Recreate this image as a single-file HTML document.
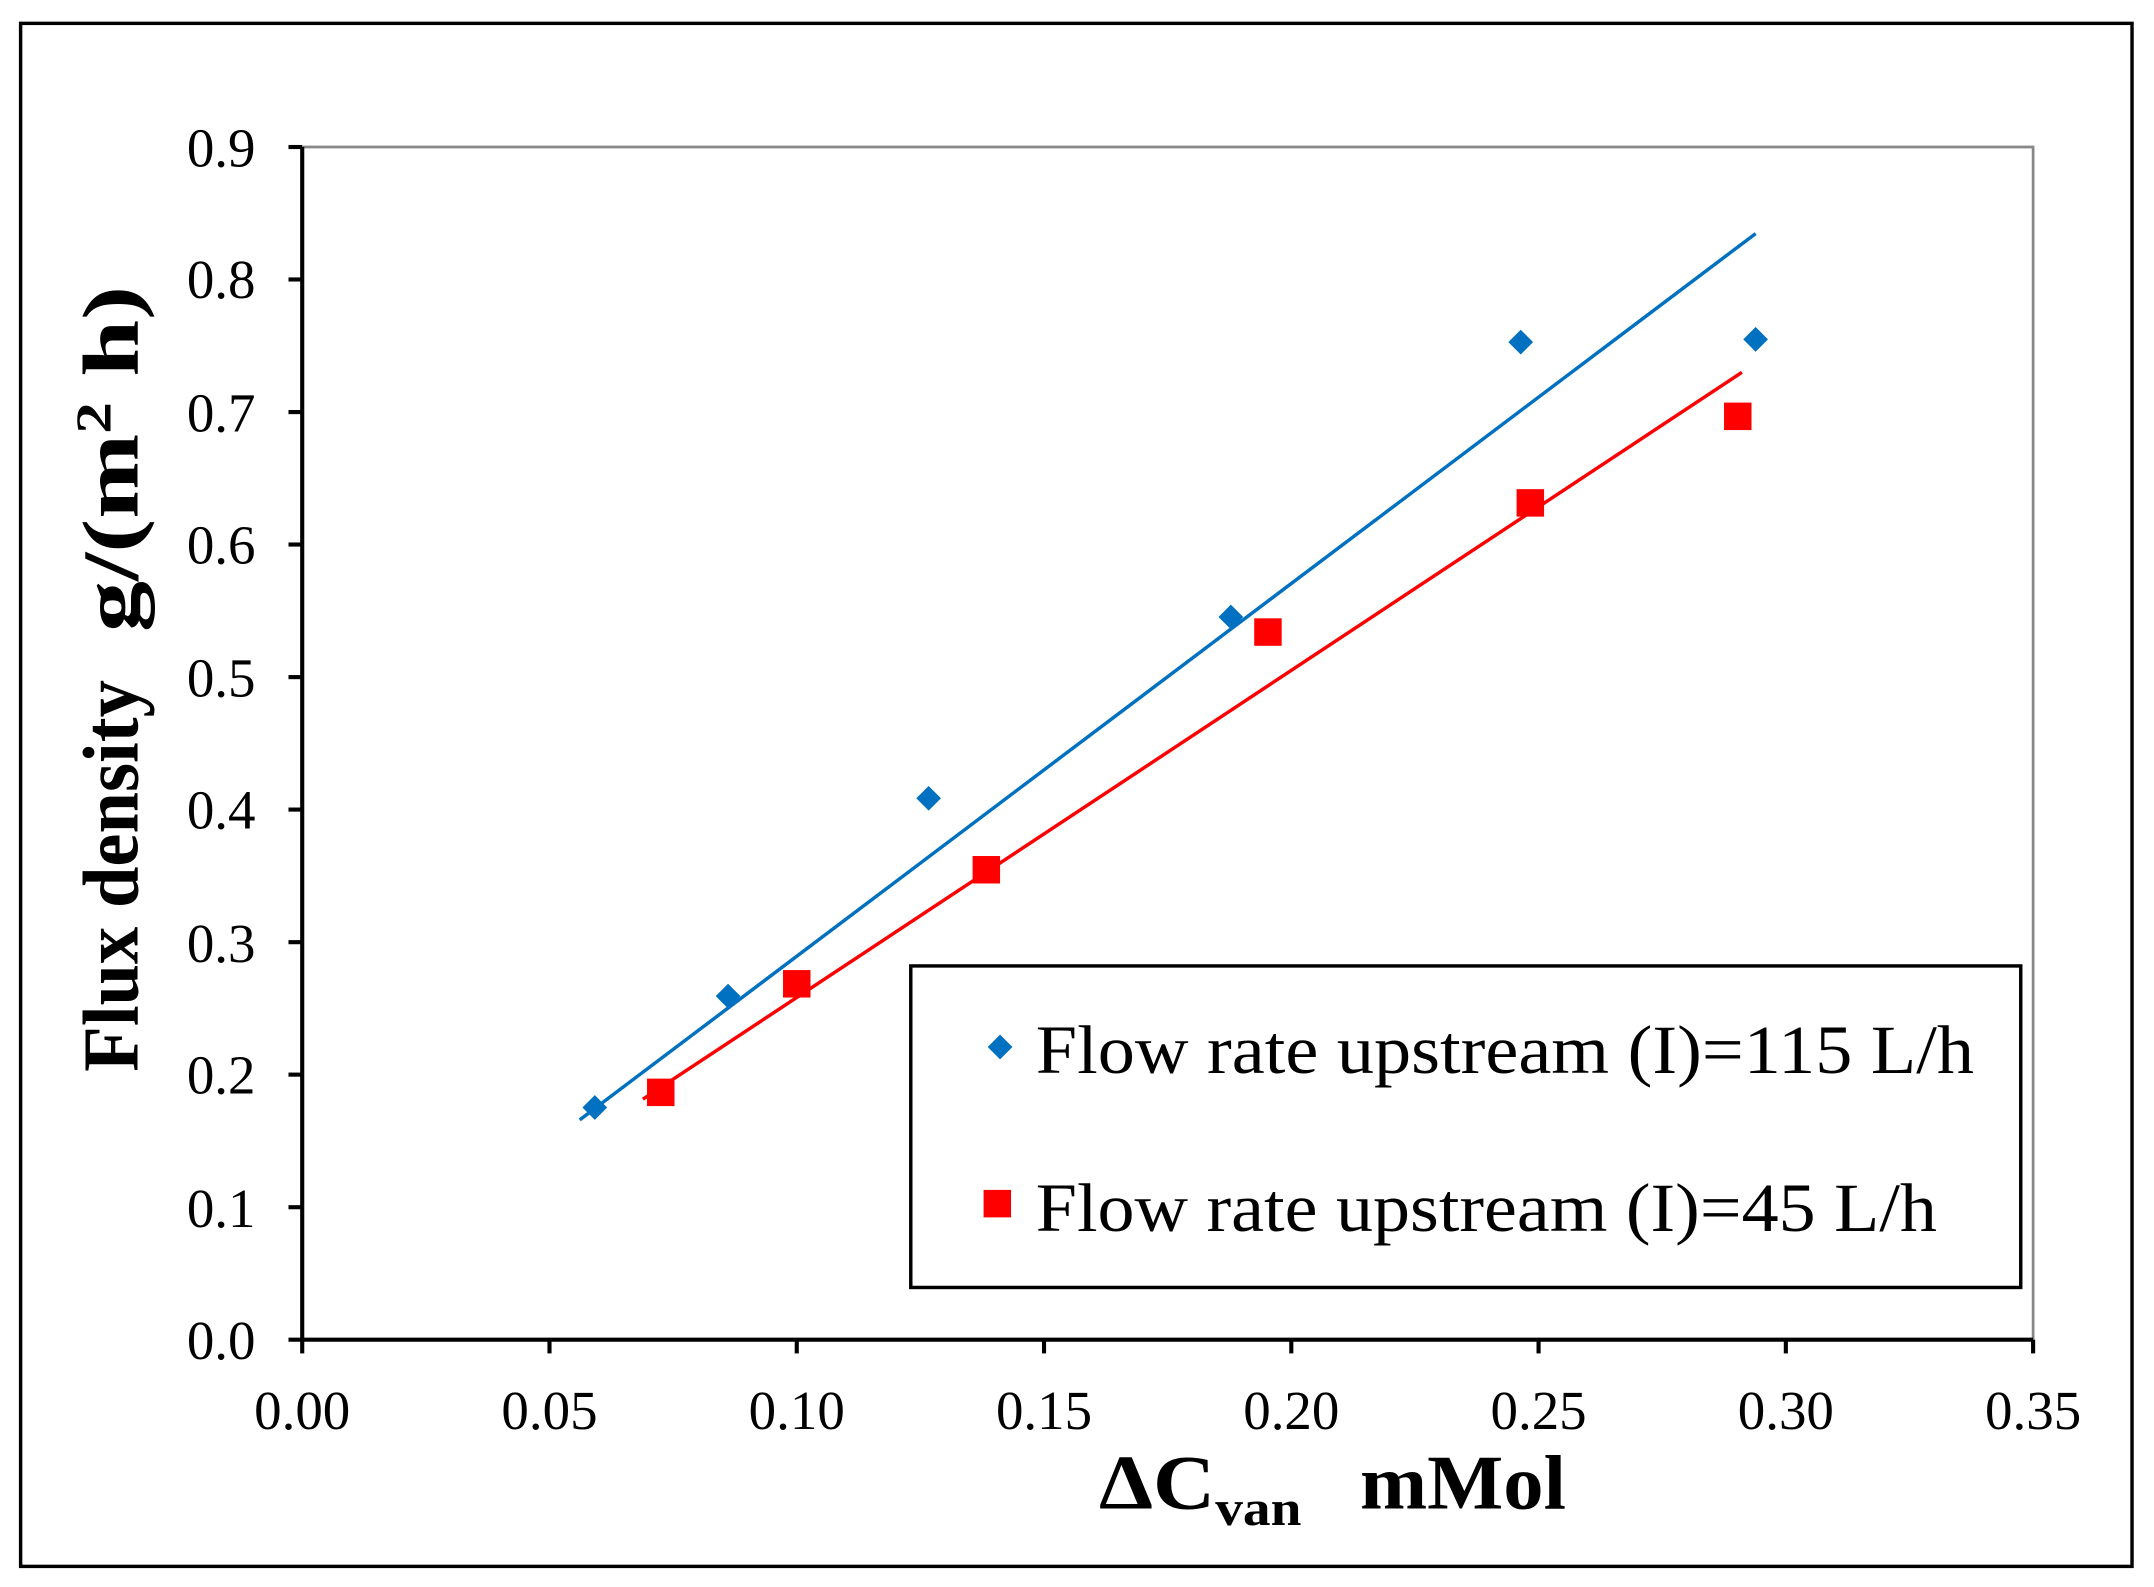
<!DOCTYPE html>
<html><head><meta charset="utf-8"><style>html,body{margin:0;padding:0;background:#fff}svg{display:block}</style></head>
<body>
<svg width="2154" height="1587" viewBox="0 0 1568 1155" preserveAspectRatio="none" xmlns="http://www.w3.org/2000/svg" font-family="'Liberation Serif', serif">
<rect x="0" y="0" width="1568" height="1155" fill="#fff"/>
<rect x="15" y="17" width="1537" height="1123" fill="none" stroke="#000" stroke-width="2.5"/>
<polyline points="220,107 1480,107 1480,975" fill="none" stroke="#888" stroke-width="2"/>
<line x1="220" y1="107" x2="220" y2="975" stroke="#000" stroke-width="3"/>
<line x1="210" y1="975" x2="1480" y2="975" stroke="#000" stroke-width="3"/>
<g stroke="#000" stroke-width="3">
<line x1="210" y1="107" x2="220" y2="107"/><line x1="210" y1="203.4" x2="220" y2="203.4"/><line x1="210" y1="299.9" x2="220" y2="299.9"/><line x1="210" y1="396.3" x2="220" y2="396.3"/><line x1="210" y1="492.8" x2="220" y2="492.8"/><line x1="210" y1="589.2" x2="220" y2="589.2"/><line x1="210" y1="685.7" x2="220" y2="685.7"/><line x1="210" y1="782.1" x2="220" y2="782.1"/><line x1="210" y1="878.6" x2="220" y2="878.6"/>
<line x1="220" y1="975" x2="220" y2="985"/><line x1="400" y1="975" x2="400" y2="985"/><line x1="580" y1="975" x2="580" y2="985"/><line x1="760" y1="975" x2="760" y2="985"/><line x1="940" y1="975" x2="940" y2="985"/><line x1="1120" y1="975" x2="1120" y2="985"/><line x1="1300" y1="975" x2="1300" y2="985"/><line x1="1480" y1="975" x2="1480" y2="985"/>
</g>
<g font-size="40" text-anchor="end">
<text x="186" y="121">0.9</text><text x="186" y="217">0.8</text><text x="186" y="314">0.7</text><text x="186" y="410">0.6</text><text x="186" y="507">0.5</text><text x="186" y="603">0.4</text><text x="186" y="700">0.3</text><text x="186" y="796">0.2</text><text x="186" y="893">0.1</text><text x="186" y="989">0.0</text>
</g>
<g font-size="40" text-anchor="middle">
<text x="220" y="1040">0.00</text><text x="400" y="1040">0.05</text><text x="580" y="1040">0.10</text><text x="760" y="1040">0.15</text><text x="940" y="1040">0.20</text><text x="1120" y="1040">0.25</text><text x="1300" y="1040">0.30</text><text x="1480" y="1040">0.35</text>
</g>
<g transform="translate(100,780) rotate(-90)" font-size="58" font-weight="bold">
<text x="0" y="0" textLength="285" lengthAdjust="spacingAndGlyphs">Flux density</text>
<g transform="translate(320,0) scale(1.28,1)"><text x="0" y="0">g/(m<tspan font-size="36" dy="-20">2</tspan><tspan dy="20"> h)</tspan></text></g>
</g>
<g transform="translate(800,1098) scale(1.12,1)"><text x="0" y="0" font-size="56" font-weight="bold">ΔC<tspan font-size="36" dy="12">van</tspan></text></g>
<text x="990" y="1098" font-size="56" font-weight="bold" textLength="150" lengthAdjust="spacingAndGlyphs">mMol</text>
<line x1="422" y1="815" x2="1278" y2="170" stroke="#0070c0" stroke-width="2.5"/>
<line x1="468" y1="800" x2="1268" y2="271" stroke="#ff0000" stroke-width="2.5"/>
<g fill="#0070c0">
<path d="M433,797 l9,9 l-9,9 l-9,-9z"/><path d="M530,716 l9,9 l-9,9 l-9,-9z"/><path d="M676,572 l9,9 l-9,9 l-9,-9z"/><path d="M896,440 l9,9 l-9,9 l-9,-9z"/><path d="M1107,240 l9,9 l-9,9 l-9,-9z"/><path d="M1278,238 l9,9 l-9,9 l-9,-9z"/>
</g>
<g fill="#ff0000">
<rect x="471" y="785" width="20" height="20"/><rect x="570" y="706" width="20" height="20"/><rect x="708" y="623" width="20" height="20"/><rect x="913" y="450" width="20" height="20"/><rect x="1104" y="356" width="20" height="20"/><rect x="1255" y="293" width="20" height="20"/>
</g>
<rect x="663" y="703" width="808" height="234" fill="#fff" stroke="#000" stroke-width="2.5"/>
<path d="M728,753 l9,9 l-9,9 l-9,-9z" fill="#0070c0"/>
<rect x="716" y="866" width="20" height="20" fill="#ff0000"/>
<text x="754" y="781" font-size="50" textLength="683" lengthAdjust="spacingAndGlyphs">Flow rate upstream (I)=115 L/h</text>
<text x="754" y="896" font-size="50" textLength="656" lengthAdjust="spacingAndGlyphs">Flow rate upstream (I)=45 L/h</text>
</svg>
</body></html>
